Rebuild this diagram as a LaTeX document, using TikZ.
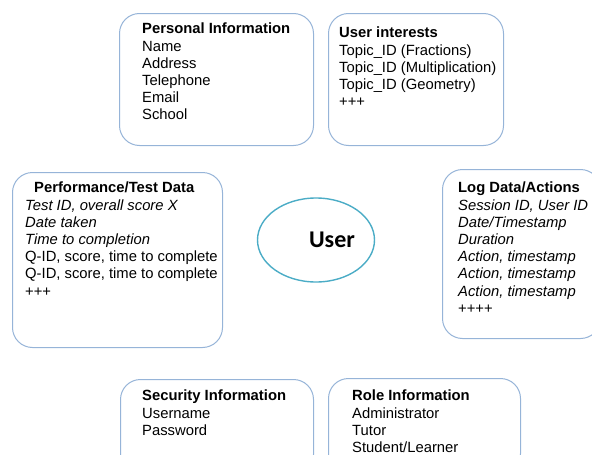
\documentclass[tikz,border=0pt]{standalone}
\usepackage{fontspec}
\setmainfont{Liberation Sans}
\newfontfamily\userfont{Carlito}
\usetikzlibrary{shapes.geometric}
\definecolor{boxline}{RGB}{150,180,216}
\definecolor{ellline}{RGB}{75,172,198}
\begin{document}
\begin{tikzpicture}[x=1pt,y=-1pt,
  infobox/.style={draw=boxline, line width=1pt, rounded corners=20pt, fill=white,
    anchor=north west, inner sep=0pt},
  infotext/.style={anchor=north west, inner sep=0pt, align=left,
    font=\fontsize{14.8}{17.2}\selectfont},
]
\useasboundingbox (0,0) rectangle (592,455);
\clip (0,0) rectangle (592,455);

% category boxes
\node[infobox, minimum width=194pt, minimum height=132pt] (personal) at (119,13) {};
\node[infobox, minimum width=175pt, minimum height=132pt] (interests) at (328,13) {};
\node[infobox, minimum width=210pt, minimum height=175pt] (perf) at (12,172) {};
\node[infobox, minimum width=158pt, minimum height=169pt] (logbox) at (442,169) {};
\node[infobox, minimum width=193pt, minimum height=95pt] (security) at (120,379) {};
\node[infobox, minimum width=192pt, minimum height=95pt] (role) at (328,378) {};

% box contents
\node[infotext] (personaltxt) at (142,23) {\textbf{Personal Information}\\Name\\Address\\Telephone\\Email\\School};
\node[infotext] (intereststxt) at (339,27) {\textbf{User interests}\\Topic\_ID (Fractions)\\Topic\_ID (Multiplication)\\Topic\_ID (Geometry)\\+++};
\node[infotext] (perftxt) at (25,182) {\hspace*{9pt}\textbf{Performance/Test Data}\\\textit{Test ID, overall score X}\\\textit{Date taken}\\\textit{Time to completion}\\Q-ID, score, time to complete\\Q-ID, score, time to complete\\+++};
\node[infotext] (logtxt) at (458,182) {\textbf{Log Data/Actions}\\\textit{Session ID, User ID}\\\textit{Date/Timestamp}\\\textit{Duration}\\\textit{Action, timestamp}\\\textit{Action, timestamp}\\\textit{Action, timestamp}\\++++};
\node[infotext] (securitytxt) at (142,390) {\textbf{Security Information}\\Username\\Password};
\node[infotext] (roletxt) at (352,390) {\textbf{Role Information}\\Administrator\\Tutor\\Student/Learner};

% central entity
\node[ellipse, draw=ellline, line width=1.4pt, minimum width=117pt, minimum height=84pt] (user) at (316,240) {};
\node[inner sep=0pt, font=\userfont\bfseries\fontsize{24}{28}\selectfont] (userlabel) at (332,240) {User};
\end{tikzpicture}
\end{document}
